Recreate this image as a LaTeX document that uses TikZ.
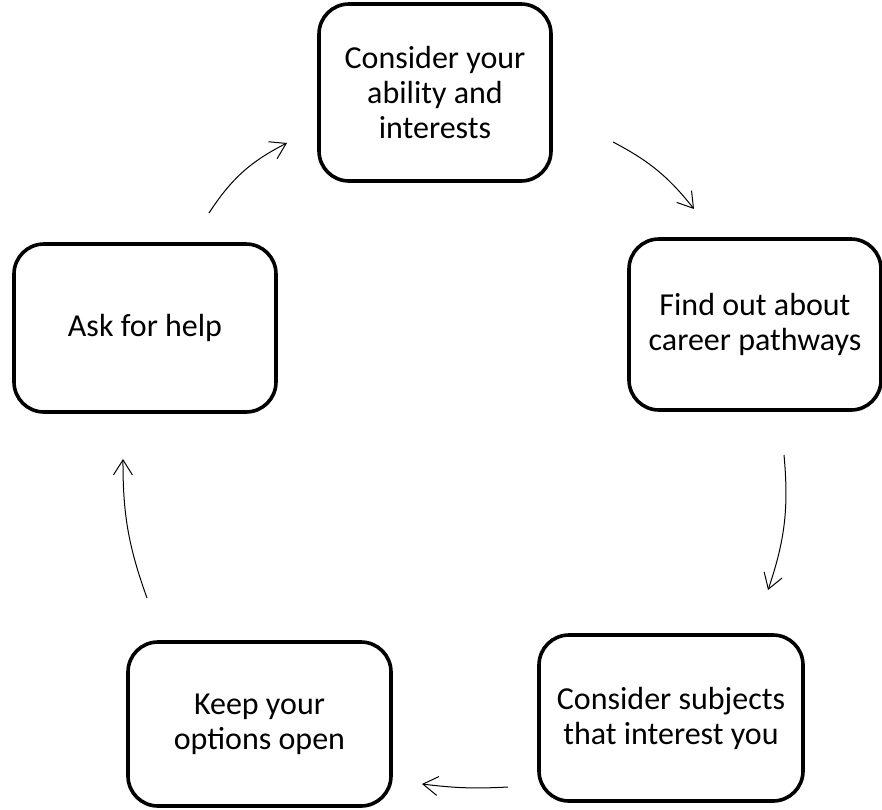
\documentclass[tikz,border=0pt]{standalone}
\usepackage{fontspec}
\setmainfont{Carlito}
\usetikzlibrary{arrows.meta}
\tikzstyle{block}=[draw,line width=3.6pt,rounded corners=30pt,rectangle,align=center,inner sep=0pt]
\tikzstyle{every node}=[font=\fontsize{32}{35}\selectfont]
\tikzstyle{step arrow}=[line width=1pt]

\begin{document}
\begin{tikzpicture}[x=1pt,y=-1pt,>={Straight Barb[length=15pt,width=19pt]}]
    \useasboundingbox (0,0) rectangle (882,809);
    \node[block, minimum width=232pt, minimum height=177pt] (ability) at (435,92.5) {Consider your\\ability and\\interests};
    \node[block, minimum width=252pt, minimum height=171pt] (career) at (755,324.5) {Find out about\\career pathways};
    \node[block, minimum width=264pt, minimum height=166pt] (subjects) at (671,718) {Consider subjects\\that interest you};
    \node[block, minimum width=263pt, minimum height=164pt] (options) at (259.5,724) {Keep your\\options open};
    \node[block, minimum width=262pt, minimum height=168pt] (help) at (145,328) {Ask for help};
    \coordinate (h1) at (209,213);
    \coordinate (h2) at (287,143);
    \coordinate (a1) at (613,142);
    \coordinate (a2) at (694,209);
    \coordinate (c1) at (784,455);
    \coordinate (c2) at (768,590);
    \coordinate (s1) at (508,787);
    \coordinate (s2) at (422,784);
    \coordinate (o1) at (147,598);
    \coordinate (o2) at (123,459);
    \draw[step arrow,->] (h1) to[bend left=15] (h2);
    \draw[step arrow,->] (a1) to[bend left=12] (a2);
    \draw[step arrow,->] (c1) to[bend left=12] (c2);
    \draw[step arrow,->] (s1) to[bend left=5] (s2);
    \draw[step arrow,->] (o1) to[bend left=10] (o2);
\end{tikzpicture}
\end{document}
